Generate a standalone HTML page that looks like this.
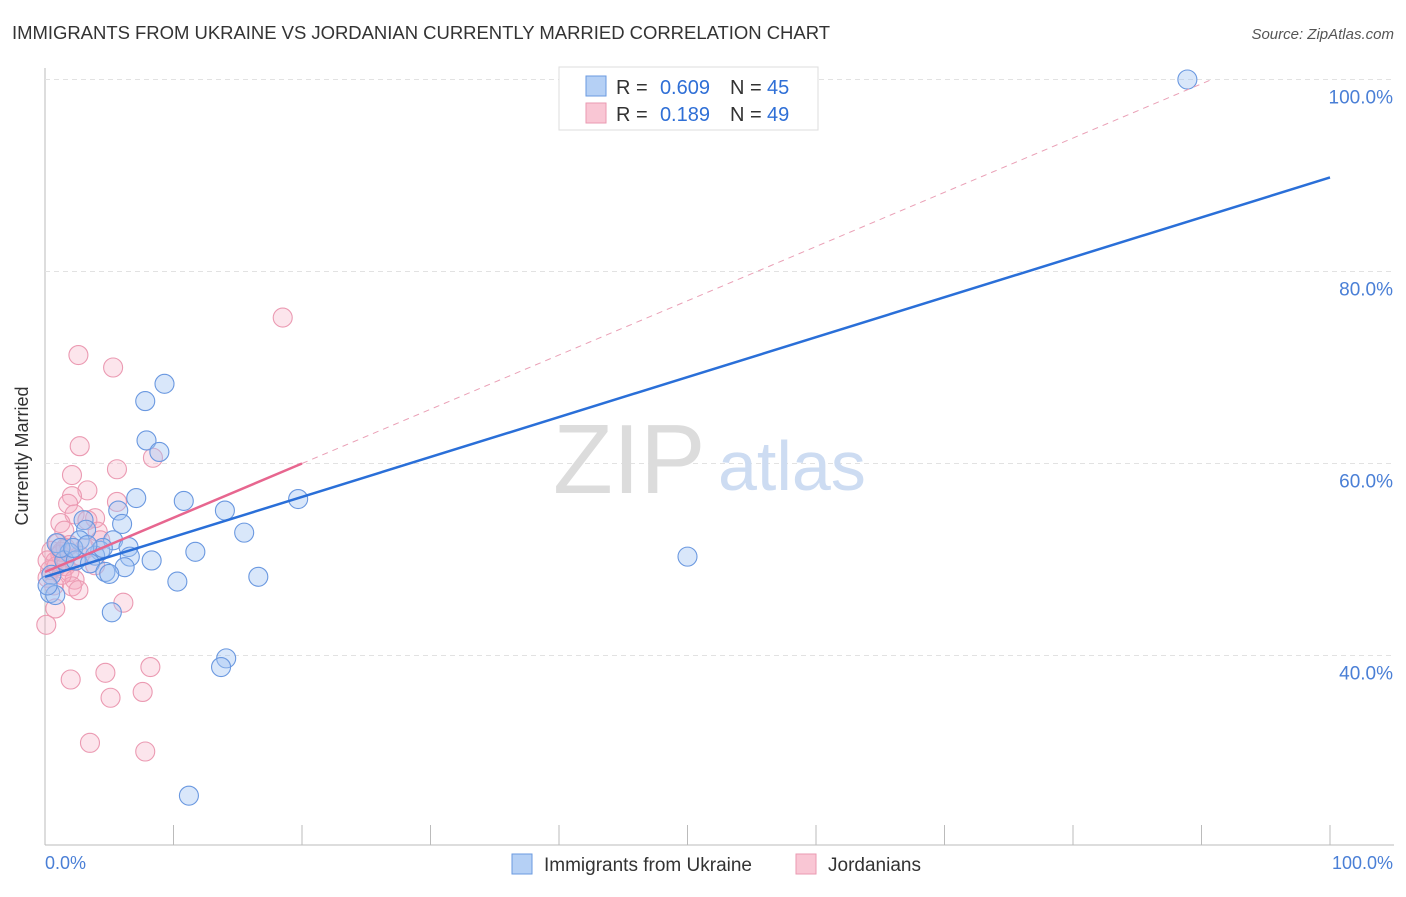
<!DOCTYPE html>
<html><head><meta charset="utf-8"><style>
body{margin:0;background:#fff;font-family:"Liberation Sans",sans-serif}
svg text{font-family:"Liberation Sans",sans-serif}
</style></head><body>
<svg width="1406" height="892" xmlns="http://www.w3.org/2000/svg">
<text x="12" y="39" font-size="18.5" fill="#333" textLength="818">IMMIGRANTS FROM UKRAINE VS JORDANIAN CURRENTLY MARRIED CORRELATION CHART</text>
<text x="1394" y="39" font-size="15" fill="#555" font-style="italic" text-anchor="end">Source: ZipAtlas.com</text>
<g id="grid"></g>
<text x="553" y="493" font-size="98" fill="#dcdcdc" font-family="Liberation Serif">ZIP</text>
<text x="718" y="490" font-size="70" fill="#cddcf2">atlas</text>
<g id="pts"></g>
<g id="lines"></g>
<text x="28" y="456" font-size="18" fill="#333" text-anchor="middle" transform="rotate(-90 28 456)">Currently Married</text>
<text x="45" y="869" font-size="18" fill="#4a7fd6">0.0%</text>
<text x="1393" y="869" font-size="18" fill="#4a7fd6" text-anchor="end">100.0%</text>
<g>
<rect x="559" y="67" width="259" height="63" fill="#fff" stroke="#ddd"/>
<rect x="586" y="76" width="20" height="20" fill="#b5d0f5" stroke="#6a9ae0"/>
<rect x="586" y="103" width="20" height="20" fill="#f9c6d4" stroke="#ea9ab2"/>
<text x="616" y="94" font-size="20" fill="#333">R =</text>
<text x="710" y="94" font-size="20" fill="#2f6fd6" text-anchor="end">0.609</text>
<text x="730" y="94" font-size="20" fill="#333">N =</text>
<text x="767" y="94" font-size="20" fill="#2f6fd6">45</text>
<text x="616" y="121" font-size="20" fill="#333">R =</text>
<text x="710" y="121" font-size="20" fill="#2f6fd6" text-anchor="end">0.189</text>
<text x="730" y="121" font-size="20" fill="#333">N =</text>
<text x="767" y="121" font-size="20" fill="#2f6fd6">49</text>
</g>
<g>
<rect x="512" y="854" width="20" height="20" fill="#b5d0f5" stroke="#6a9ae0"/>
<text x="544" y="871" font-size="19" fill="#333">Immigrants from Ukraine</text>
<rect x="796" y="854" width="20" height="20" fill="#f9c6d4" stroke="#ea9ab2"/>
<text x="828" y="871" font-size="19" fill="#333">Jordanians</text>
</g>
</svg>
<script>
const blueX=[88.9,9.3,7.8,7.9,8.9,7.1,10.8,19.7,14.0,5.7,3.0,6.0,15.5,3.2,2.7,5.3,6.5,0.9,1.9,4.3,3.9,1.5,2.4,6.6,8.3,11.7,3.5,6.2,4.7,5.0,10.3,16.6,0.5,0.4,0.8,5.2,14.1,13.7,11.2,50.0,1.2,0.2,4.5,2.2,3.3];
const blueY=[100.0,68.3,66.5,62.4,61.2,56.4,56.1,56.3,55.1,55.1,54.1,53.7,52.8,53.1,52.0,52.0,51.3,51.7,50.7,50.9,50.4,49.9,49.9,50.3,49.9,50.8,49.6,49.2,48.7,48.5,47.7,48.2,48.4,46.5,46.3,44.5,39.7,38.8,25.4,50.3,51.2,47.3,51.2,51.2,51.5];
const pinkX=[18.5,2.6,5.3,2.7,8.4,5.6,2.1,3.3,5.6,2.1,1.8,2.3,3.9,3.3,1.2,1.5,4.1,1.0,0.5,0.8,1.2,1.6,1.9,0.4,0.2,0.7,2.3,2.1,2.6,0.8,0.1,6.1,3.9,8.2,4.7,2.0,5.1,7.6,3.5,7.8,1.3,1.6,0.9,3.1,0.2,1.3,2.7,1.9,4.3];
const pinkY=[75.2,71.3,70.0,61.8,60.6,59.4,58.8,57.2,56.0,56.6,55.8,54.7,54.3,54.1,53.8,53.0,52.9,51.7,50.9,49.8,50.5,49.3,48.7,48.9,48.1,47.3,47.9,47.2,46.8,44.9,43.2,45.5,49.4,38.8,38.2,37.5,35.6,36.2,30.9,30.0,50.8,51.2,49.3,51.2,49.9,48.4,50.4,51.5,52.0];
const yTicks=[100,80,60,40];
const blueFit=[48.2,89.8];
const pinkFit=[48.7,60.0];
const pinkFitEndX=20;
const NS="http://www.w3.org/2000/svg";
const sx=v=>45+v*12.85, sy=v=>79.5+(100-v)*9.6;
function mk(p,t,a){const e=document.createElementNS(NS,t);for(const k in a)e.setAttribute(k,a[k]);p.appendChild(e);return e;}
const grid=document.getElementById('grid');
mk(grid,'line',{x1:45,y1:68,x2:45,y2:845,stroke:'#bbb'});
mk(grid,'line',{x1:45,y1:845,x2:1394,y2:845,stroke:'#bbb'});
for(let i=0;i<=10;i++){const l=mk(grid,'line',{x1:sx(i*10),y1:825,x2:sx(i*10),y2:845,stroke:'#bbb'});

}
yTicks.forEach(t=>{const l=mk(grid,'line',{x1:45,y1:sy(t),x2:1394,y2:sy(t),stroke:'#e2e2e2','stroke-dasharray':'5,4'});


const tx=mk(grid,'text',{x:1393,y:sy(t)+24,'font-size':19,fill:'#4a7fd6','text-anchor':'end'});tx.textContent=t.toFixed(1)+'%';

});
const pts=document.getElementById('pts');
pinkX.forEach((x,i)=>{const c=mk(pts,'circle',{cx:sx(x),cy:sy(pinkY[i]),r:9.5,fill:'rgba(246,170,192,0.3)',stroke:'#eb9ab2','stroke-width':1.1});

});
blueX.forEach((x,i)=>{const c=mk(pts,'circle',{cx:sx(x),cy:sy(blueY[i]),r:9.5,fill:'rgba(160,196,242,0.4)',stroke:'#6a98e0','stroke-width':1.1});

});
const lines=document.getElementById('lines');
const slope=(pinkFit[1]-pinkFit[0])/pinkFitEndX;
const xEnd=(100-pinkFit[0])/slope;
const d=mk(lines,'line',{x1:sx(pinkFitEndX),y1:sy(pinkFit[1]),x2:sx(xEnd),y2:sy(100),stroke:'#eaa0b6','stroke-width':1,'stroke-dasharray':'6,5'});


const b=mk(lines,'line',{x1:sx(0),y1:sy(blueFit[0]),x2:sx(100),y2:sy(blueFit[1]),stroke:'#2a6fd8','stroke-width':2.5});


const p=mk(lines,'line',{x1:sx(0),y1:sy(pinkFit[0]),x2:sx(pinkFitEndX),y2:sy(pinkFit[1]),stroke:'#e7668f','stroke-width':2.5});


</script>
</body></html>
